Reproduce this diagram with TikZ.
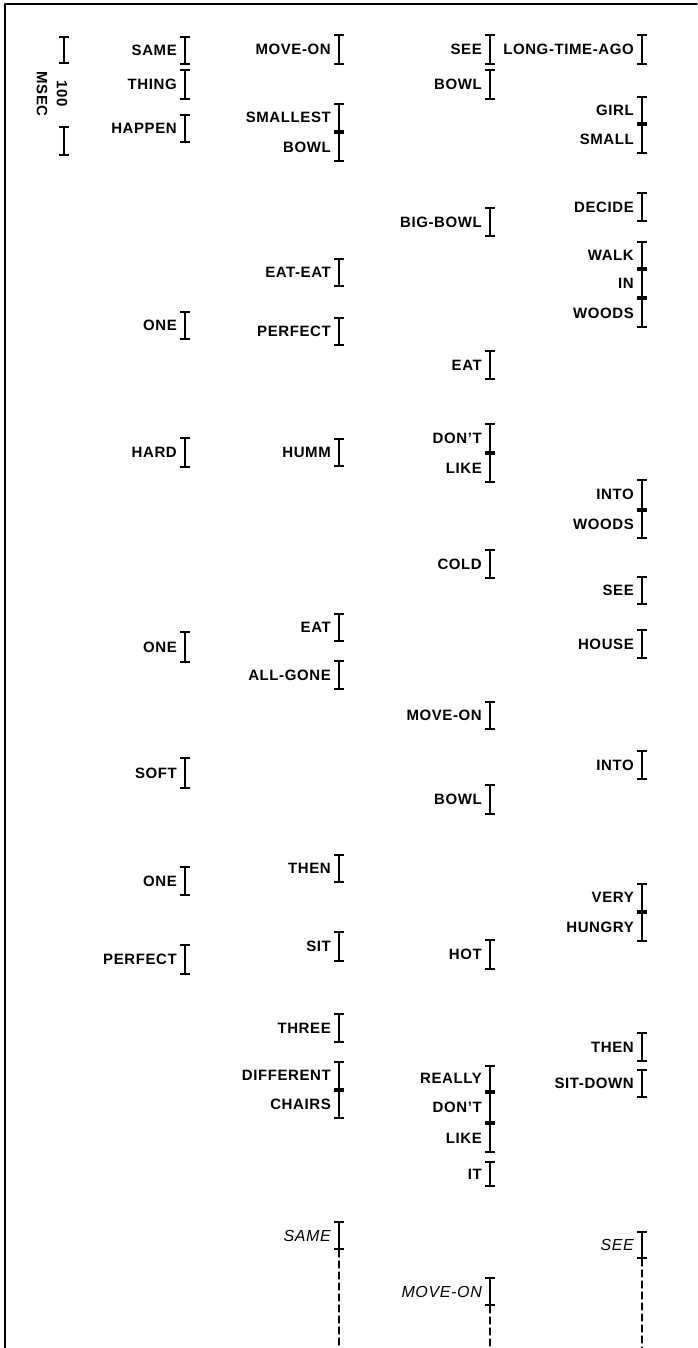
\documentclass[tikz,border=0pt]{standalone}
\usepackage{fontspec}
\setmainfont[LetterSpace=4]{Liberation Sans}
\usepackage{tikz}
\usetikzlibrary{arrows.meta,positioning}

\tikzset{
  wordline/.style={line width=1.8pt,{Bar[width=10pt,line width=1.6pt]}-{Bar[width=10pt,line width=1.6pt]}},
  word/.style={inner sep=0pt,font=\bfseries\fontsize{15}{20}\selectfont},
  hand/.style={font=\itshape\fontsize{16}{20}\selectfont},
  trail/.style={line width=1.2pt,dash pattern=on 7pt off 4pt},
  frame/.style={line width=1.8pt}
}

\newcommand{\wordbar}[6][]{%
  \coordinate (#2t) at (#3,#4);
  \coordinate (#2b) at (#3,#5);
  \draw[wordline] (#2t) -- coordinate (#2m) (#2b);
  \node[word,left=8pt of #2m,#1] (#2) {#6};
}

\begin{document}
\begin{tikzpicture}[x=1pt,y=-1pt,line cap=round,line join=round]
\useasboundingbox (0,0) rectangle (697,1348);
\coordinate (bottom) at (0,1348);
\draw[frame] (5,1348) -- (5,4) -- (697,4);

\coordinate (msect) at (64,36);
\coordinate (msecb) at (64,64);
\coordinate (msecc) at (64,126);
\coordinate (msecd) at (64,156);
\draw[wordline] (msect) -- (msecb);
\draw[wordline] (msecc) -- (msecd);
\node[word,rotate=-90,align=center] (msec) at (52,94) {100\\MSEC};

\wordbar{sameA}{185}{36}{65}{SAME}
\wordbar{thing}{185}{69}{100}{THING}
\wordbar{happen}{185}{114}{143}{HAPPEN}
\wordbar{oneA}{185}{311}{340}{ONE}
\wordbar{hard}{185}{437}{468}{HARD}
\wordbar{oneB}{185}{631}{663}{ONE}
\wordbar{soft}{185}{757}{789}{SOFT}
\wordbar{oneC}{185}{866}{896}{ONE}
\wordbar{perfectA}{185}{944}{975}{PERFECT}

\wordbar{moveonA}{339}{34}{65}{MOVE-ON}
\wordbar{smallest}{339}{103}{132}{SMALLEST}
\wordbar{bowlA}{339}{132}{162}{BOWL}
\wordbar{eateat}{339}{258}{287}{EAT-EAT}
\wordbar{perfectB}{339}{317}{346}{PERFECT}
\wordbar{humm}{339}{438}{467}{HUMM}
\wordbar{eatB}{339}{613}{642}{EAT}
\wordbar{allgone}{339}{660}{690}{ALL-GONE}
\wordbar{thenA}{339}{854}{883}{THEN}
\wordbar{sit}{339}{931}{962}{SIT}
\wordbar{three}{339}{1013}{1043}{THREE}
\wordbar{different}{339}{1061}{1090}{DIFFERENT}
\wordbar{chairs}{339}{1090}{1119}{CHAIRS}
\wordbar[hand]{sameB}{339}{1221}{1250}{SAME}

\wordbar{seeA}{490}{34}{65}{SEE}
\wordbar{bowlB}{490}{69}{100}{BOWL}
\wordbar{bigbowl}{490}{207}{237}{BIG-BOWL}
\wordbar{eatA}{490}{350}{380}{EAT}
\wordbar{dontA}{490}{423}{453}{DON'T}
\wordbar{likeA}{490}{453}{483}{LIKE}
\wordbar{cold}{490}{549}{579}{COLD}
\wordbar{moveonB}{490}{701}{730}{MOVE-ON}
\wordbar{bowlC}{490}{784}{815}{BOWL}
\wordbar{hot}{490}{939}{970}{HOT}
\wordbar{really}{490}{1065}{1092}{REALLY}
\wordbar{dontB}{490}{1092}{1123}{DON'T}
\wordbar{likeB}{490}{1123}{1153}{LIKE}
\wordbar{it}{490}{1161}{1187}{IT}
\wordbar[hand]{moveonC}{490}{1277}{1306}{MOVE-ON}

\wordbar{longago}{642}{34}{65}{LONG-TIME-AGO}
\wordbar{girl}{642}{96}{124}{GIRL}
\wordbar{small}{642}{124}{154}{SMALL}
\wordbar{decide}{642}{192}{222}{DECIDE}
\wordbar{walk}{642}{241}{269}{WALK}
\wordbar{in}{642}{269}{298}{IN}
\wordbar{woodsA}{642}{298}{328}{WOODS}
\wordbar{intoA}{642}{479}{510}{INTO}
\wordbar{woodsB}{642}{510}{539}{WOODS}
\wordbar{seeB}{642}{576}{605}{SEE}
\wordbar{house}{642}{629}{659}{HOUSE}
\wordbar{intoB}{642}{750}{780}{INTO}
\wordbar{very}{642}{883}{912}{VERY}
\wordbar{hungry}{642}{912}{942}{HUNGRY}
\wordbar{thenB}{642}{1032}{1062}{THEN}
\wordbar{sitdown}{642}{1069}{1098}{SIT-DOWN}
\wordbar[hand]{seeC}{642}{1231}{1259}{SEE}

\draw[trail] (sameBb) -- (sameBb |- bottom);
\draw[trail] (moveonCb) -- (moveonCb |- bottom);
\draw[trail] (seeCb) -- (seeCb |- bottom);
\end{tikzpicture}
\end{document}
